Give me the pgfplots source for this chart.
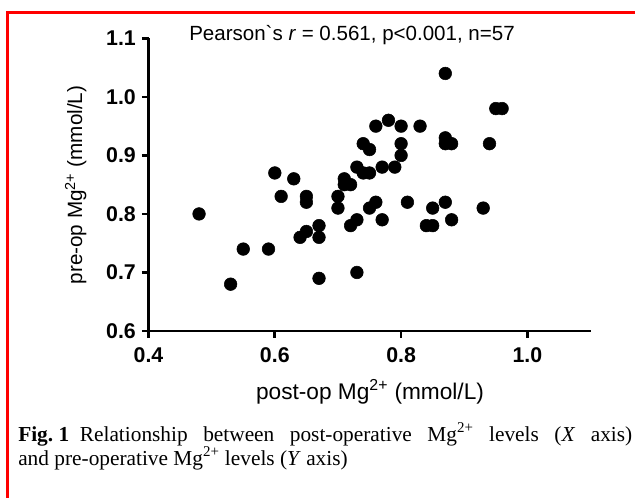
\documentclass[border=0pt]{standalone}
\usepackage{fontspec}
\setmainfont{Liberation Sans}
\newfontfamily\capfont{Liberation Serif}
\usepackage{pgfplots}
\pgfplotsset{compat=1.18}

\begin{document}
\begin{tikzpicture}
\useasboundingbox (0,0) rectangle (476.25pt,372.75pt);
% frame (only left and top edges are inside the picture)
\draw[red, line width=1.8pt] (5.5pt,-2pt) -- (5.5pt,363.4pt) -- (480pt,363.4pt);

\begin{axis}[
  at={(111.4pt,124.5pt)}, anchor=origin,
  scale only axis,
  width=331.5pt, height=219.5pt,
  xmin=0.4, xmax=1.1, ymin=0.6, ymax=1.1,
  axis x line=bottom, axis y line=left,
  axis line style={line width=2pt, -},
  xtick={0.4,0.6,0.8,1.0},
  ytick={0.6,0.7,0.8,0.9,1.0,1.1},
  tick align=outside,
  major tick length=5pt,
  every tick/.style={black, line width=2pt},
  /pgf/number format/.cd, fixed, fixed zerofill, precision=1, assume math mode=true,
  /pgfplots/.cd,
  tick label style={font=\bfseries\fontsize{16}{18}\selectfont},
  xticklabel style={yshift=-4pt},
  yticklabel style={xshift=-1pt},
  clip=false,
]
\addplot[only marks, mark=*, mark size=4.75pt, mark options={fill=black, draw=black}] coordinates {
 (0.48,0.80) (0.60,0.87) (0.63,0.86) (0.61,0.83) (0.65,0.83) (0.65,0.82)
 (0.55,0.74) (0.59,0.74) (0.53,0.68) (0.64,0.76) (0.65,0.77) (0.67,0.76)
 (0.67,0.78) (0.67,0.69)
 (0.87,1.04) (0.95,0.98) (0.96,0.98) (0.76,0.95) (0.78,0.96) (0.80,0.95)
 (0.83,0.95) (0.87,0.93) (0.87,0.92) (0.88,0.92) (0.94,0.92) (0.74,0.92)
 (0.75,0.91) (0.80,0.92) (0.80,0.90) (0.73,0.88) (0.74,0.87) (0.75,0.87)
 (0.77,0.88) (0.79,0.88) (0.71,0.86) (0.71,0.85) (0.72,0.85) (0.70,0.83)
 (0.70,0.81) (0.76,0.82) (0.75,0.81) (0.81,0.82) (0.87,0.82) (0.85,0.81)
 (0.93,0.81) (0.88,0.79) (0.77,0.79) (0.73,0.79) (0.72,0.78) (0.84,0.78)
 (0.85,0.78) (0.73,0.70)
};
\end{axis}

\node[anchor=base, font=\fontsize{15.4}{17}\selectfont] at (264pt,342pt)
  {Pearson{\addfontfeature{Ligatures=TeXOff}\symbol{"60}}s \textit{r} = 0.561, p<0.001, n=57};
\node[anchor=base, font=\fontsize{17}{19}\selectfont] at (277.5pt,73.5pt)
  {post-op Mg\textsuperscript{2+} (mmol/L)};
\node[anchor=base, rotate=90, font=\fontsize{15.5}{18}\selectfont] at (61.5pt,234pt)
  {pre-op Mg\textsuperscript{2+} (mmol/L)};

\node[anchor=base west, inner sep=0pt, font=\capfont\fontsize{16}{18}\selectfont] at (13.5pt,42pt)
  {\makebox[460.5pt][s]{\mbox{\textbf{Fig.\ 1}}\enspace Relationship between post-operative Mg\textsuperscript{2+} levels (\textit{X} axis)}};
\node[anchor=base west, inner sep=0pt, font=\capfont\fontsize{16}{18}\selectfont] at (13.5pt,24pt)
  {and pre-operative Mg\textsuperscript{2+} levels (\textit{Y} axis)};
\end{tikzpicture}
\end{document}
